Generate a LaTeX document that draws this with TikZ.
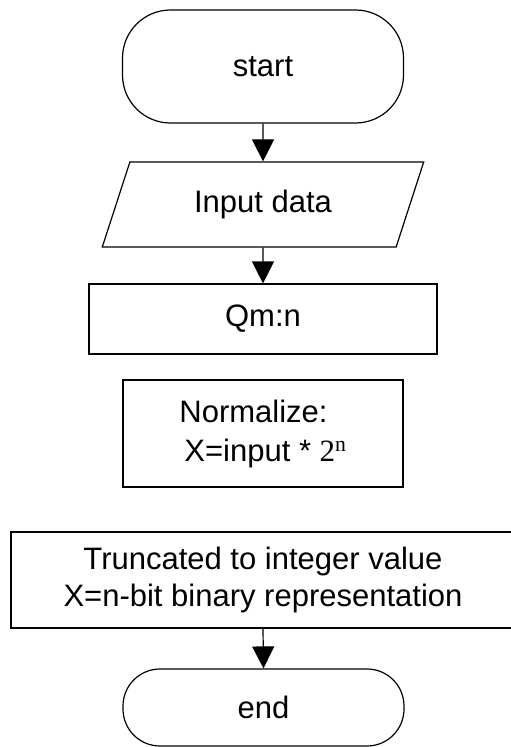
\documentclass[tikz,border=0pt]{standalone}
\usepackage{fontspec}
\setmainfont{Liberation Sans}
\newfontfamily\numserif{Liberation Serif}
\usetikzlibrary{arrows.meta,shapes.geometric}

\tikzset{
  base/.style={draw=black, line width=1.2pt, align=center, inner sep=0pt,
               font=\fontsize{31}{37}\selectfont},
  terminal/.style={base, rectangle, rounded corners=#1},
  iobox/.style={base, trapezium, trapezium left angle=63.7,
                trapezium right angle=116.3, trapezium stretches=true},
  procbox/.style={base, rectangle},
  flow/.style={draw=black, line width=1.2pt,
               -{Triangle[width=22pt,length=22pt]}}
}

\begin{document}
\begin{tikzpicture}[x=1pt, y=-1pt]
  \useasboundingbox (0,0) rectangle (511,747);
  \clip (0,0) rectangle (511,747);

  % flowchart steps
  \node[terminal=48pt, minimum width=281pt, minimum height=113pt]
    (start) at (263,66.5) {start};
  \node[iobox, minimum width=322pt, minimum height=85pt]
    (input) at (263,204.5) {Input data};
  \node[procbox, minimum width=348pt, minimum height=70pt]
    (qm) at (263,319) {Qm:n};
  \node[procbox, minimum width=280pt, minimum height=107pt, align=left]
    (norm) at (263,433.5)
    {Normalize:\\[2pt]\hspace{5pt}X=input * {\numserif 2\textsuperscript{n}}};
  \node[procbox, minimum width=504pt, minimum height=96pt]
    (trunc) at (263,580) {Truncated to integer value\\X=n-bit binary representation};
  \node[terminal=37pt, minimum width=281pt, minimum height=77pt]
    (end) at (263.5,707.5) {end};

  % connectors
  \draw[flow] (start.south) -- (input.north);
  \draw[flow] (input.south) -- (qm.north);
  \draw[flow] (trunc.south) -- (end.north);
\end{tikzpicture}
\end{document}
